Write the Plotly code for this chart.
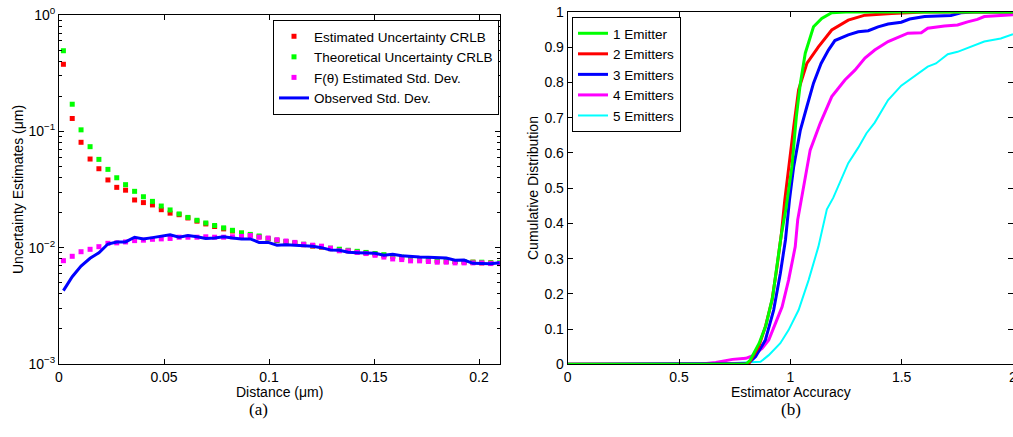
import plotly.graph_objects as go

# ---------------- Panel (a) data ----------------
distance = [0.0021, 0.0063, 0.0105, 0.0148, 0.0190, 0.0233, 0.0275, 0.0317, 0.0360, 0.0402,
            0.0445, 0.0487, 0.0529, 0.0572, 0.0614, 0.0657, 0.0699, 0.0741, 0.0784, 0.0826,
            0.0869, 0.0911, 0.0953, 0.0996, 0.1038, 0.1081, 0.1123, 0.1165, 0.1208, 0.1250,
            0.1293, 0.1335, 0.1377, 0.1420, 0.1462, 0.1505, 0.1547, 0.1589, 0.1632, 0.1674,
            0.1717, 0.1759, 0.1801, 0.1844, 0.1886, 0.1929, 0.1971, 0.2013, 0.2056, 0.2098]

est_crlb = [0.377, 0.129, 0.0805, 0.0578, 0.0477, 0.0382, 0.0330, 0.0312, 0.0257, 0.0244,
            0.0233, 0.0212, 0.0198, 0.0192, 0.0180, 0.0169, 0.0160, 0.0152, 0.0145, 0.0139,
            0.0133, 0.0128, 0.0124, 0.0119, 0.0115, 0.0112, 0.0109, 0.0106, 0.0103, 0.0101,
            0.0098, 0.0096, 0.0094, 0.0092, 0.0090, 0.0088, 0.0086, 0.0084, 0.0082, 0.0081,
            0.0079, 0.0078, 0.0077, 0.0076, 0.0076, 0.0075, 0.0075, 0.0074, 0.0074, 0.0073]

theo_crlb = [0.493, 0.171, 0.103, 0.0738, 0.0574, 0.0471, 0.0399, 0.0348, 0.0305, 0.0274,
             0.0250, 0.0228, 0.0211, 0.0195, 0.0182, 0.0172, 0.0163, 0.0155, 0.0148, 0.0141,
             0.0134, 0.0130, 0.0126, 0.0120, 0.0116, 0.0113, 0.0110, 0.0107, 0.0104, 0.0102,
             0.0099, 0.0097, 0.0095, 0.0093, 0.0091, 0.0089, 0.0087, 0.0085, 0.0083, 0.0081,
             0.0080, 0.0079, 0.0078, 0.0077, 0.0076, 0.0076, 0.0075, 0.0075, 0.0074, 0.0074]

f_theta_std = [0.00773, 0.00843, 0.00923, 0.00968, 0.0102, 0.0109, 0.0110, 0.0112, 0.0115, 0.0116,
               0.0118, 0.0119, 0.0120, 0.0123, 0.0123, 0.0123, 0.0124, 0.0123, 0.0123, 0.0124,
               0.0125, 0.0127, 0.0123, 0.0121, 0.0117, 0.0114, 0.0111, 0.0107, 0.0105, 0.0103,
               0.0099, 0.0094, 0.0094, 0.0091, 0.0089, 0.0086, 0.0083, 0.0080, 0.0079, 0.0077,
               0.0077, 0.0076, 0.0075, 0.0075, 0.0074, 0.0074, 0.0074, 0.0074, 0.0073, 0.0073]

observed_std = [0.00427, 0.00563, 0.00695, 0.00810, 0.00905, 0.01075, 0.0112, 0.0112, 0.0123, 0.0119,
                0.0122, 0.0126, 0.0129, 0.0123, 0.0127, 0.0124, 0.0120, 0.0121, 0.0124, 0.0121,
                0.0119, 0.0119, 0.0111, 0.0111, 0.0105, 0.0106, 0.0105, 0.0104, 0.0103, 0.0100,
                0.00955, 0.00949, 0.00912, 0.00905, 0.00900, 0.00895, 0.00860, 0.00877, 0.00853, 0.00836,
                0.00831, 0.00826, 0.00815, 0.00815, 0.00779, 0.00783, 0.00734, 0.00734, 0.00728, 0.00742]

# ---------------- Panel (b) data ----------------
e1_x = [0, 0.80, 0.82, 0.86, 0.89, 0.92, 0.94, 0.96, 0.98, 1.007, 1.027, 1.045, 1.067, 1.082,
        1.104, 1.141, 1.186, 1.25, 2.0]
e1_y = [0, 0, 0.012, 0.06, 0.11, 0.19, 0.28, 0.37, 0.44, 0.561, 0.703, 0.798, 0.883, 0.916,
        0.958, 0.982, 0.998, 1.0, 1.0]

e2_x = [0, 0.80, 0.814, 0.858, 0.888, 0.918, 0.940, 0.960, 0.975, 0.992, 1.015, 1.037, 1.074,
        1.126, 1.186, 1.26, 1.335, 1.454, 1.6, 2.0]
e2_y = [0, 0, 0.003, 0.05, 0.107, 0.183, 0.277, 0.372, 0.466, 0.561, 0.674, 0.779, 0.854,
        0.901, 0.949, 0.977, 0.991, 0.996, 1.0, 1.0]

e3_x = [0, 0.80, 0.81, 0.844, 0.888, 0.925, 0.955, 0.978, 0.996, 1.015, 1.045, 1.074, 1.104,
        1.138, 1.171, 1.2, 1.26, 1.305, 1.35, 1.394, 1.439, 1.498, 1.536, 1.603, 1.721, 1.766,
        1.826, 2.0]
e3_y = [0, 0, 0.002, 0.022, 0.069, 0.154, 0.258, 0.353, 0.466, 0.561, 0.665, 0.731, 0.798,
        0.854, 0.892, 0.919, 0.935, 0.944, 0.947, 0.958, 0.966, 0.971, 0.980, 0.987, 0.990, 0.998,
        1.0, 1.0]

e4_x = [0, 0.59, 0.665, 0.74, 0.80, 0.829, 0.873, 0.903, 0.933, 0.963, 0.992, 1.022, 1.033,
        1.059, 1.089, 1.134, 1.186, 1.245, 1.29, 1.335, 1.379, 1.439, 1.498, 1.528, 1.588, 1.617,
        1.692, 1.751, 1.796, 1.84, 1.871, 1.96, 2.0]
e4_y = [0, 0, 0.005, 0.014, 0.017, 0.024, 0.045, 0.069, 0.116, 0.163, 0.239, 0.334, 0.41,
        0.504, 0.608, 0.684, 0.760, 0.807, 0.835, 0.869, 0.892, 0.916, 0.932, 0.940, 0.941, 0.954,
        0.960, 0.963, 0.972, 0.979, 0.987, 0.991, 0.992]

e5_x = [0, 0.75, 0.866, 0.903, 0.955, 0.992, 1.037, 1.082, 1.126, 1.164, 1.193, 1.23, 1.26,
        1.305, 1.342, 1.379, 1.439, 1.498, 1.558, 1.617, 1.654, 1.707, 1.751, 1.811, 1.871,
        1.945, 2.0]
e5_y = [0, 0.004, 0.007, 0.026, 0.060, 0.097, 0.154, 0.239, 0.334, 0.440, 0.473, 0.528, 0.571,
        0.615, 0.656, 0.686, 0.750, 0.791, 0.818, 0.845, 0.854, 0.880, 0.887, 0.901, 0.916,
        0.925, 0.937]

log_ticks = [1e-3, 1e-2, 1e-1, 1]
log_tick_text = ["10<sup>−3</sup>", "10<sup>−2</sup>", "10<sup>−1</sup>", "10<sup>0</sup>"]
log_minor = [m * d for d in (1e-3, 1e-2, 1e-1) for m in range(2, 10)]
a_xticks = [0, 0.05, 0.1, 0.15, 0.2]
a_xtext = ["0", "0.05", "0.1", "0.15", "0.2"]
b_xticks = [0, 0.5, 1, 1.5, 2]
b_xtext = ["0", "0.5", "1", "1.5", "2"]
b_yticks = [0, 0.1, 0.2, 0.3, 0.4, 0.5, 0.6, 0.7, 0.8, 0.9, 1]
b_ytext = ["0", "0.1", "0.2", "0.3", "0.4", "0.5", "0.6", "0.7", "0.8", "0.9", "1"]

FONT = "Liberation Sans, Arial, Helvetica, sans-serif"
SERIF = "Liberation Serif, Times New Roman, serif"
FS = 14
LFS = 13.5
W, H = 1013, 437

fig = go.Figure()

mk = dict(symbol="square", size=5)
fig.add_trace(go.Scatter(x=distance, y=est_crlb, mode="markers", name="Estimated Uncertainty CRLB",
                         marker=dict(color="#ff0000", **mk), xaxis="x", yaxis="y", legend="legend"))
fig.add_trace(go.Scatter(x=distance, y=theo_crlb, mode="markers", name="Theoretical Uncertainty CRLB",
                         marker=dict(color="#00ff00", **mk), xaxis="x", yaxis="y", legend="legend"))
fig.add_trace(go.Scatter(x=distance, y=f_theta_std, mode="markers", name="F(θ) Estimated Std. Dev.",
                         marker=dict(color="#ff00ff", **mk), xaxis="x", yaxis="y", legend="legend"))
fig.add_trace(go.Scatter(x=distance, y=observed_std, mode="lines", name="Observed Std. Dev.",
                         line=dict(color="#0000ff", width=3), xaxis="x", yaxis="y", legend="legend"))

for xs, ys, nm, col, w in [(e5_x, e5_y, "5 Emitters", "#00ffff", 2),
                           (e4_x, e4_y, "4 Emitters", "#ff00ff", 3),
                           (e3_x, e3_y, "3 Emitters", "#0000ff", 3),
                           (e2_x, e2_y, "2 Emitters", "#ff0000", 3),
                           (e1_x, e1_y, "1 Emitter", "#00ff00", 3)]:
    fig.add_trace(go.Scatter(x=xs, y=ys, mode="lines", name=nm, line=dict(color=col, width=w),
                             xaxis="x2", yaxis="y2", legend="legend2"))

axis_common = dict(showline=True, linecolor="black", linewidth=1, mirror="ticks", ticks="inside",
                   ticklen=5, tickcolor="black", showgrid=False, zeroline=False, automargin=False,
                   ticklabeloverflow="allow",
                   tickfont=dict(family=FONT, size=FS, color="black"))

fig.update_layout(
    width=W, height=H,
    margin=dict(l=0, r=0, t=0, b=0, autoexpand=False),
    paper_bgcolor="white", plot_bgcolor="white",
    font=dict(family=FONT, size=FS, color="black"),
    xaxis=dict(domain=[59 / W, 500 / W], range=[0, 0.21], tickvals=a_xticks, ticktext=a_xtext,
               anchor="y", **axis_common),
    yaxis=dict(domain=[73 / H, 422 / H], type="log", range=[-3, 0], tickvals=log_ticks,
               ticktext=log_tick_text, anchor="x",
               minor=dict(tickvals=log_minor, ticks="inside", ticklen=3, tickcolor="black", showgrid=False),
               **axis_common),
    xaxis2=dict(domain=[567.7 / W, 1.0], range=[0, 2], tickvals=b_xticks, ticktext=b_xtext,
                anchor="y2", **axis_common),
    yaxis2=dict(domain=[72.7 / H, 425 / H], range=[0, 1], tickvals=b_yticks, ticktext=b_ytext,
                anchor="x2", **axis_common),
    legend=dict(x=499 / W, y=1 - 20 / H, xanchor="right", yanchor="top", bgcolor="white",
                bordercolor="black", borderwidth=1, font=dict(family=FONT, size=LFS, color="black"),
                traceorder="normal", itemwidth=30, tracegroupgap=0),
    legend2=dict(x=572 / W, y=1 - 17 / H, xanchor="left", yanchor="top", bgcolor="white",
                 bordercolor="black", borderwidth=1, font=dict(family=FONT, size=LFS, color="black"),
                 traceorder="reversed", itemwidth=30, tracegroupgap=0),
    showlegend=True,
)

# axis titles and panel captions
texts = [("Distance (μm)", 279, 392, 0, FONT, FS),
         ("Estimator Accuracy", 791, 392, 0, FONT, FS),
         ("Uncertainty Estimates (μm)", 18, 190, -90, FONT, FS),
         ("Cumulative Distribution", 533, 188, -90, FONT, FS),
         ("(a)", 258, 409, 0, SERIF, 17),
         ("(b)", 791, 409, 0, SERIF, 17)]
for t, px, py, ang, fam, sz in texts:
    fig.add_annotation(text=t, x=px / W, y=1 - py / H, xref="paper", yref="paper",
                       xanchor="center", yanchor="middle", textangle=ang, showarrow=False,
                       font=dict(family=fam, size=sz, color="black"))

fig.write_html("out.html", config={"displayModeBar": False},
               post_script="document.body.style.margin='0';")
